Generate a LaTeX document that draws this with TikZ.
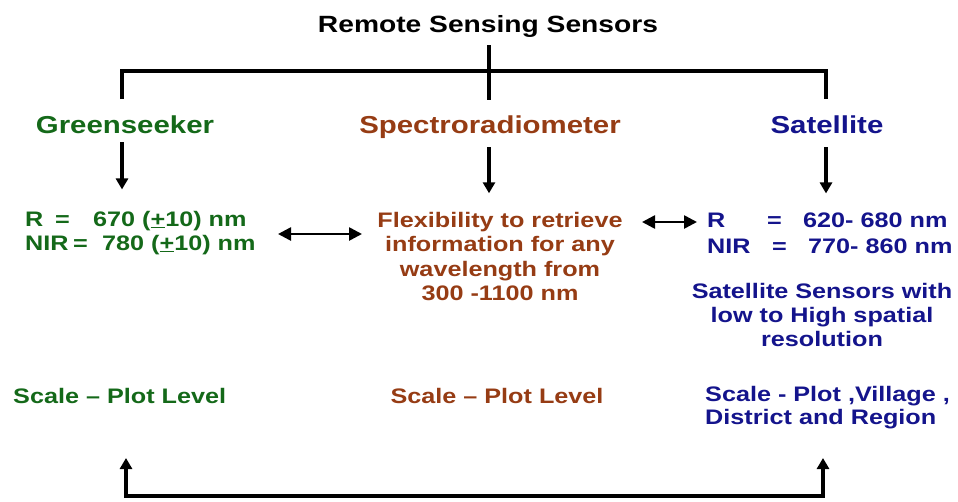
\documentclass[tikz,border=0pt]{standalone}
\usepackage{fontspec}
\setmainfont{Liberation Sans}[FakeStretch=1.2]
\usetikzlibrary{arrows.meta}
\definecolor{gsgreen}{RGB}{20,105,25}
\definecolor{spbrown}{RGB}{150,60,20}
\definecolor{satblue}{RGB}{20,20,140}
\begin{document}
\begin{tikzpicture}[x=1pt,y=-1pt,
  txt/.style={inner sep=0pt,font=\bfseries\fontsize{21}{25}\selectfont},
  head/.style={inner sep=0pt,font=\bfseries\fontsize{24.5}{30}\selectfont},
  tree/.style={line width=3.2pt},
  arr/.style={line width=3.2pt,-{Triangle[length=11pt,width=12pt]}},
  darr/.style={line width=2.6pt,{Triangle[length=13pt,width=13pt]}-{Triangle[length=13pt,width=13pt]}}]
\useasboundingbox[fill=white] (0,0) rectangle (958,501);
% title
\node[inner sep=0pt,font=\bfseries\fontsize{23.5}{28}\selectfont,anchor=base] (title) at (488,32) {Remote Sensing Sensors};
% headers
\node[head,text=gsgreen,anchor=base] (gs) at (125,133) {Greenseeker};
\node[head,text=spbrown,anchor=base] (sp) at (490,133) {Spectroradiometer};
\node[head,text=satblue,anchor=base] (sat) at (827,133) {Satellite};
% tree
\coordinate (tTop) at (489,45);
\coordinate (tBot) at (489,100);
\coordinate (lBot) at (122,99);
\coordinate (rBot) at (826,99);
\coordinate (bar) at (826,71);
\draw[tree] (tTop) -- (tBot);
\draw[tree] (lBot) |- (bar) -- (rBot);
% green block
\node[txt,text=gsgreen,anchor=base west] (gr) at (25,226) {\makebox[30pt][l]{R}\makebox[38pt][l]{=}670 (\underline{+}10) nm};
\node[txt,text=gsgreen,anchor=base west] (gn) at (25,250) {\makebox[48pt][l]{NIR}\makebox[29pt][l]{=}780 (\underline{+}10) nm};
% brown block (base anchor = last line)
\node[txt,text=spbrown,align=center,anchor=base,font=\bfseries\fontsize{21}{24.5}\selectfont] (sf) at (500,300.5) {Flexibility to retrieve\\information for any\\wavelength from\\300 -1100 nm};
% blue block
\node[txt,text=satblue,anchor=base west] (br) at (707,227) {\makebox[60pt][l]{R}\makebox[36pt][l]{=}620- 680 nm};
\node[txt,text=satblue,anchor=base west] (bn) at (707,253) {\makebox[65pt][l]{NIR}\makebox[36pt][l]{=}770- 860 nm};
\node[txt,text=satblue,align=center,anchor=base,font=\bfseries\fontsize{21}{24}\selectfont] (bs) at (822,346) {Satellite Sensors with\\low to High spatial\\resolution};
% scale
\node[txt,text=gsgreen,anchor=base west] (gsc) at (13,403) {Scale – Plot Level};
\node[txt,text=spbrown,anchor=base] (ssc) at (497,403) {Scale – Plot Level};
\node[txt,text=satblue,anchor=base west,align=left,font=\bfseries\fontsize{21}{23}\selectfont] (bsc) at (705,424) {Scale - Plot ,Village ,\\District and Region};
% down arrows
\draw[arr] ([xshift=-3pt,yshift=-9pt]gs.south) -- ++(0,47);
\draw[arr] ([xshift=-1pt,yshift=-9pt]sp.south) -- ++(0,46);
\draw[arr] ([xshift=-1pt,yshift=-14pt]sat.south) -- ++(0,46);
% horizontal double arrows
\coordinate (la) at (278,234);
\coordinate (lb) at (362,234);
\coordinate (ra) at (642,222);
\coordinate (rb) at (697,222);
\draw[darr] (la) -- (lb);
\draw[darr] (ra) -- (rb);
% bottom connector
\coordinate (bl) at (126,458);
\coordinate (br2) at (823,458);
\draw[line width=3.2pt,{Triangle[length=11pt,width=12pt]}-{Triangle[length=11pt,width=12pt]}] (bl) -- (126,496) -- (823,496) -- (br2);
\end{tikzpicture}
\end{document}
